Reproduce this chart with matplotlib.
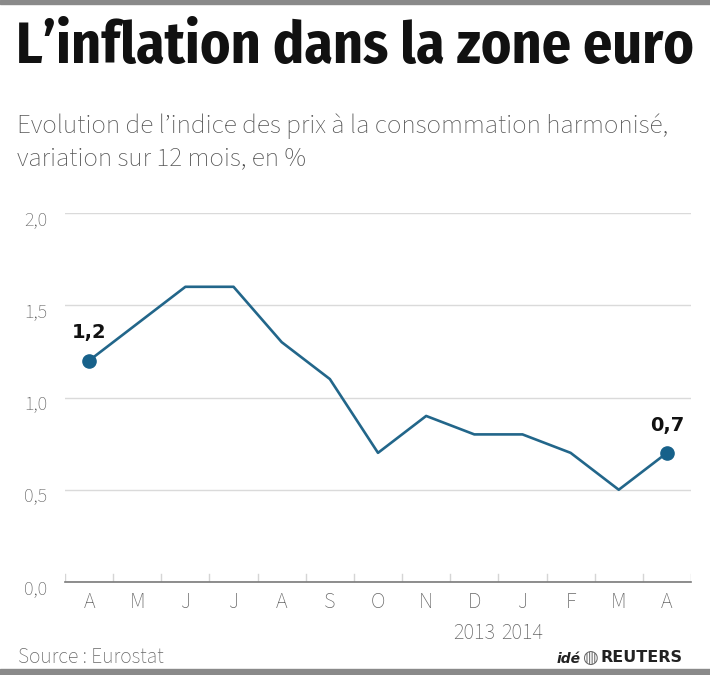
import matplotlib.pyplot as plt
import matplotlib.transforms as mtransforms
from matplotlib.patches import Rectangle

### DONNEES ###
mois = ['A', 'M', 'J', 'J', 'A', 'S', 'O', 'N', 'D', 'J', 'F', 'M', 'A']
inflation = [1.2, 1.4, 1.6, 1.6, 1.3, 1.1, 0.7, 0.9, 0.8, 0.8, 0.7, 0.5, 0.7]
annees = ['2013', '2014']
yticks = [0.0, 0.5, 1.0, 1.5, 2.0]
ytick_labels = ['0,0', '0,5', '1,0', '1,5', '2,0']

bleu = '#22668a'
gris = '#666666'
police = ['Source Sans 3', 'Source Sans Pro', 'Fira Sans Condensed', 'DejaVu Sans']
gras = ['Fira Sans Condensed', 'Roboto Condensed', 'DejaVu Sans']

fig = plt.figure(figsize=(7.1, 6.75), dpi=100)
ax = fig.add_axes([65 / 710, 93 / 675, 626 / 710, 369 / 675])

x = list(range(len(mois)))
ax.plot(x, inflation, color=bleu, lw=1.9, zorder=3)
# points de debut et de fin
ax.plot([x[0], x[-1]], [inflation[0], inflation[-1]], 'o', color='#17618a',
        ms=9.5, zorder=4, clip_on=False)
for i in [0, len(mois) - 1]:
    ax.text(x[i], inflation[i] + 0.12, ('%.1f' % inflation[i]).replace('.', ','),
            ha='center', va='baseline', fontsize=14, fontweight='bold',
            family=['DejaVu Sans'], color='#111111')

ax.set_xlim(-0.5, len(mois) - 0.5)
ax.set_ylim(0, 2.0)
ax.set_yticks(yticks)
ax.set_yticklabels(ytick_labels, family=police, fontsize=14.5, color=gris)
ax.set_xticks(x)
ax.set_xticklabels(mois, family=police, fontsize=16, color=gris)
ax.tick_params(axis='both', length=0)
ax.tick_params(axis='y', pad=13)
ax.tick_params(axis='x', pad=7)
# les etiquettes de l'axe y sont un peu sous la grille
decalage = mtransforms.ScaledTranslation(0, -3 / 72, fig.dpi_scale_trans)
for lab in ax.get_yticklabels():
    lab.set_transform(lab.get_transform() + decalage)

# petits traits verticaux entre les mois
for i in range(len(mois) + 1):
    ax.plot([i - 0.5, i - 0.5], [0, 0.045], color='#d5d5d5', lw=1, zorder=1)

ax.grid(axis='y', color='#dadada', lw=1)
ax.set_axisbelow(True)
for s in ['top', 'right', 'left']:
    ax.spines[s].set_visible(False)
ax.spines['bottom'].set_color('#7a7a7a')
ax.spines['bottom'].set_linewidth(1.2)

# annees sous D et J
for lab, pos in zip(annees, [8, 9]):
    ax.annotate(lab, (pos, 0), xytext=(0, -51), textcoords='offset pixels',
                ha='center', va='center', fontsize=16,
                family=police, color=gris, annotation_clip=False)

### TEXTES ###
fig.text(16 / 710, 1 - 63 / 675, 'L\u2019inflation dans la zone euro', ha='left', va='baseline',
         fontsize=41.5, fontweight='bold', family=gras, color='#111111')
fig.text(17 / 710, 1 - 133 / 675, 'Evolution de l\u2019indice des prix \u00e0 la consommation harmonis\u00e9,',
         ha='left', va='baseline', fontsize=19.5, family=police, color='#555555')
fig.text(17 / 710, 1 - 165 / 675, 'variation sur 12 mois, en %',
         ha='left', va='baseline', fontsize=19.5, family=police, color='#555555')
fig.text(18 / 710, 1 - 657 / 675, 'Source : Eurostat', ha='left', va='center',
         fontsize=15.5, family=police, color=gris)
fig.text(557 / 710, 1 - 659 / 675, 'id\u00e9', ha='left', va='center', fontsize=10,
         fontweight='bold', style='italic', family=['DejaVu Sans'], color='#222222')
fig.text(590 / 710, 1 - 658 / 675, '\u25cd', ha='center', va='center', fontsize=13,
         color='#666666', family=['DejaVu Sans'])
fig.text(601 / 710, 1 - 658 / 675, 'REUTERS', ha='left', va='center', fontsize=11.5,
         fontweight='bold', family=['DejaVu Sans'], color='#222222')

# bordures haut et bas
fig.patches.append(Rectangle((0, 1 - 4 / 675), 1, 4 / 675, transform=fig.transFigure,
                             color='#8a8a8a', zorder=0))
fig.patches.append(Rectangle((0, 0), 1, 6 / 675, transform=fig.transFigure,
                             color='#8a8a8a', zorder=0))

fig.savefig('out.png', dpi=100, facecolor='white')
